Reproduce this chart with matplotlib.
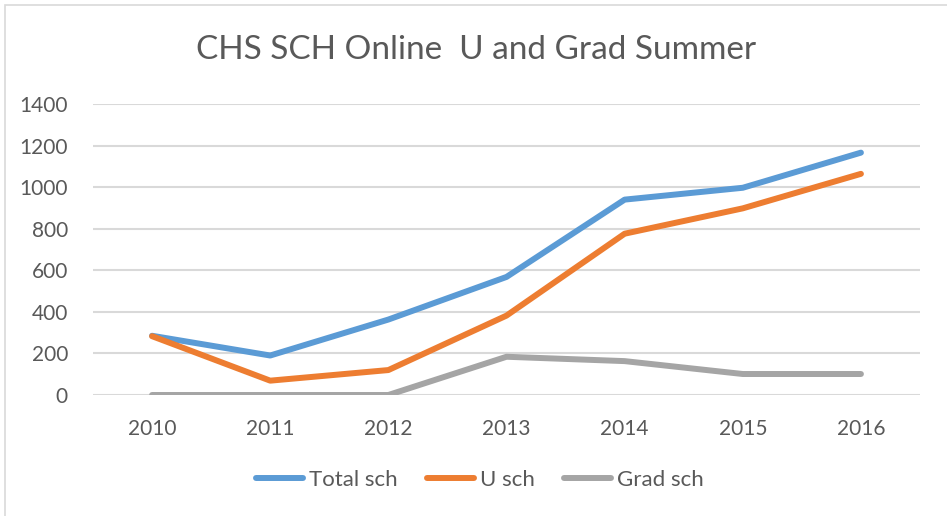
import numpy as np
import matplotlib.pyplot as plt
from matplotlib.patches import Rectangle

# values
years = ['2010', '2011', '2012', '2013', '2014', '2015', '2016']
total_sch = [285, 190, 363, 568, 940, 997, 1166]
u_sch = [283, 69, 120, 382, 776, 898, 1064]
grad_sch = [0, 0, 0, 184, 163, 101, 101]

plt.rcParams['font.family'] = ['Lato', 'DejaVu Sans']
txt = '#595959'

fig = plt.figure(figsize=(9.47, 5.16), dpi=100)
ax = fig.add_axes([93/947, 1-395/516, 827/947, 291/516])

x = np.arange(len(years))
ax.plot(x, total_sch, color='#5B9BD5', lw=4.3, solid_capstyle='round', label='Total sch', zorder=3)
ax.plot(x, u_sch, color='#ED7D31', lw=4.3, solid_capstyle='round', label='U sch', zorder=3)
ax.plot(x, grad_sch, color='#A5A5A5', lw=4.3, solid_capstyle='round', label='Grad sch', zorder=3)

ax.set_xlim(-0.5, 6.5)
ax.set_ylim(0, 1400)
ax.set_yticks(range(0, 1401, 200))
ax.set_xticks(x)
ax.set_xticklabels(years)
ax.yaxis.grid(True, color='#D9D9D9', lw=1.5)
ax.set_axisbelow(True)
for s in ax.spines.values():
    s.set_visible(False)
ax.tick_params(length=0, labelsize=15, labelcolor=txt)
ax.tick_params(axis='y', pad=18)
ax.tick_params(axis='x', pad=17)

fig.text(0.503, 1-50/516, 'CHS SCH Online  U and Grad Summer', ha='center', va='center',
         fontsize=24, color=txt)

leg = fig.legend(loc='center', bbox_to_anchor=(0.507, 1-480/516), ncol=3, frameon=False,
                 fontsize=16, handlelength=2.1, handletextpad=0.3, columnspacing=1.3)
for t in leg.get_texts():
    t.set_color(txt)

# chart border
fig.patches.append(Rectangle((5/947, -0.05), 1.2, 1-5/516+0.05, transform=fig.transFigure,
                             fill=False, edgecolor='#D9D9D9', lw=1.2))

fig.savefig('out.png', dpi=100)
